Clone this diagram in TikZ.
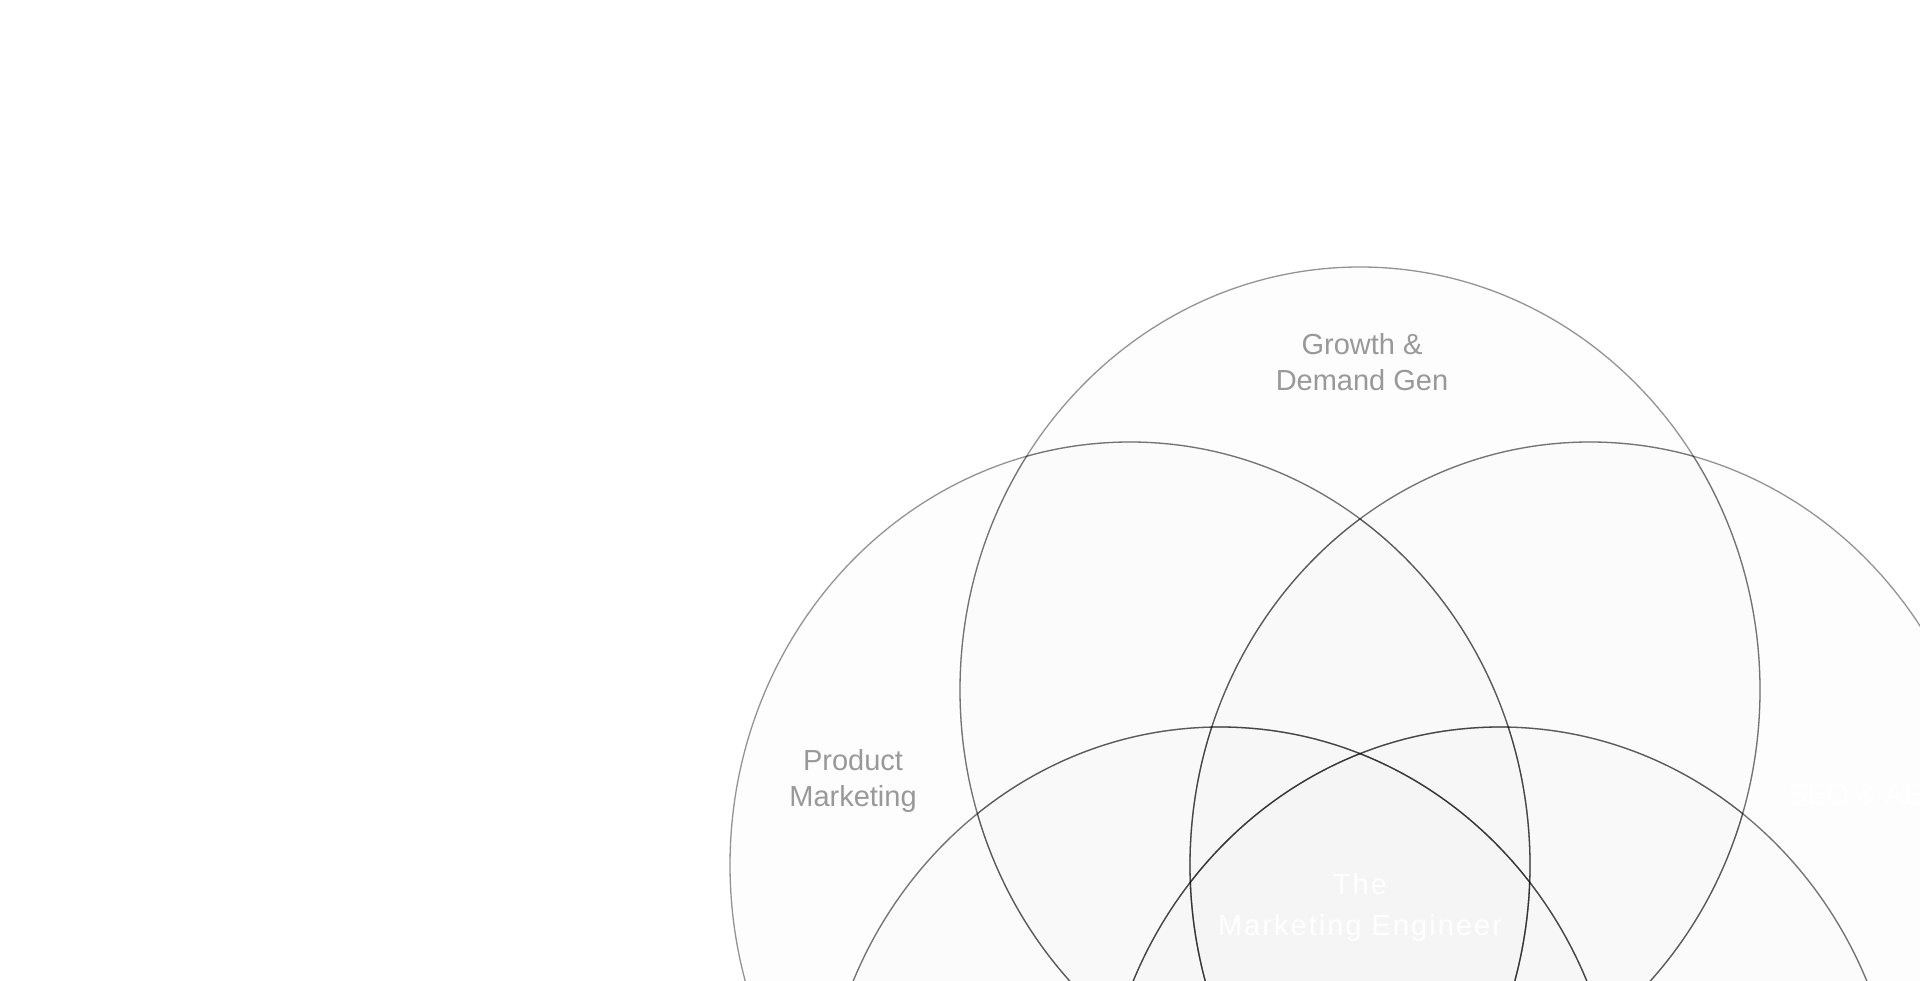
\documentclass[tikz,border=0pt]{standalone}
\usepackage{fontspec}
\setmainfont{Liberation Sans}
\newfontfamily\spacedfont[LetterSpace=7]{Liberation Sans}
\definecolor{labelgray}{HTML}{999999}
\tikzset{
  vennfill/.style={fill=black, fill opacity=0.009, draw=none},
  vennbase/.style={draw=black, draw opacity=0.42, line width=1.3pt},
  vennextra/.style={draw=black, draw opacity=0.21, line width=1.3pt},
  graylabel/.style={text=labelgray, align=center, inner sep=0pt, font=\fontsize{29}{35.5}\selectfont},
  whitelabel/.style={text=white, align=center, inner sep=0pt},
}
\begin{document}
\begin{tikzpicture}[x=1pt, y=-1pt]
\useasboundingbox (0,0) rectangle (1920,981);
\fill[white] (0,0) rectangle (1920,981);
\clip (0,0) rectangle (1920,981);
% circle centres (pentagon)
\def\rx{400}\def\ry{423}
\def\circlelist{1360/690, 1130/865, 1590/865, 1220/1150, 1500/1150}
% fills
\foreach \cx/\cy in \circlelist {
  \path[vennfill] (\cx,\cy) ellipse [x radius=\rx, y radius=\ry];
}
% base strokes
\foreach \cx/\cy in \circlelist {
  \path[vennbase] (\cx,\cy) ellipse [x radius=\rx, y radius=\ry];
}
% darker stroke segments inside other circles
\foreach \cx/\cy in \circlelist {
  \foreach \dx/\dy in \circlelist {
    \ifdim \cx pt=\dx pt \ifdim \cy pt=\dy pt \else
      \begin{scope}
        \clip (\dx,\dy) ellipse [x radius=\rx, y radius=\ry];
        \path[vennextra] (\cx,\cy) ellipse [x radius=\rx, y radius=\ry];
      \end{scope}
    \fi \else
      \begin{scope}
        \clip (\dx,\dy) ellipse [x radius=\rx, y radius=\ry];
        \path[vennextra] (\cx,\cy) ellipse [x radius=\rx, y radius=\ry];
      \end{scope}
    \fi
  }
}
% labels
\node[graylabel] (growth) at (1362,362) {Growth \&\\Demand Gen};
\node[graylabel] (product) at (853,781) {Product\\Marketing};
\node[whitelabel, anchor=base, font=\fontsize{29}{35.5}\selectfont] (seo) at (1867,804) {SEO \& AEO};
\node[whitelabel, font=\spacedfont\fontsize{29}{41}\selectfont] (engineer) at (1360,907) {The\\Marketing Engineer};
\end{tikzpicture}
\end{document}
